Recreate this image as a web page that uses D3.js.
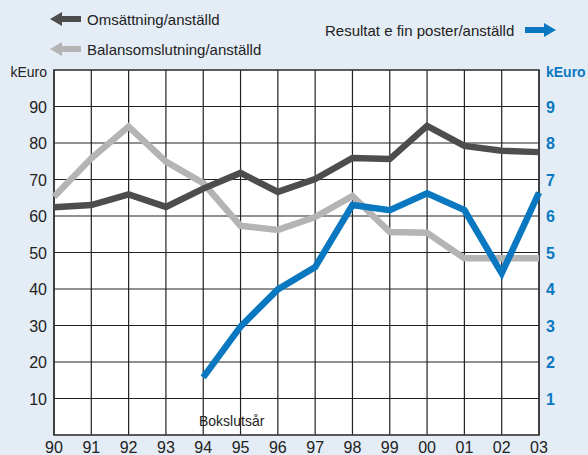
<!DOCTYPE html>
<html>
<head>
<meta charset="utf-8">
<script src="https://cdn.jsdelivr.net/npm/d3@7"></script>
<style>
body { margin: 0; background: #e4ecf5; }
svg { display: block; font-family: "Liberation Sans", Arial, sans-serif; }
</style>
</head>
<body>
<script>
// data
var years = ["90","91","92","93","94","95","96","97","98","99","00","01","02","03"];
var omsattning = [62.4, 63.0, 65.9, 62.5, 67.5, 71.8, 66.6, 70.1, 75.9, 75.6, 84.7, 79.2, 77.9, 77.5];
var balans = [65.3, 75.8, 84.5, 74.9, 69.0, 57.3, 56.2, 59.7, 65.5, 55.6, 55.4, 48.4, 48.4, 48.4];
var resultat = [null, null, null, null, 1.58, 2.97, 3.99, 4.6, 6.3, 6.16, 6.62, 6.16, 4.43, 6.64];
var leftTicks = [10, 20, 30, 40, 50, 60, 70, 80, 90];
var rightTicks = [1, 2, 3, 4, 5, 6, 7, 8, 9];

var w = 588, h = 455;
var plotL = 54, plotR = 539, plotT = 70, plotB = 435;
var blue = "#0a78c0";

var svg = d3.select("body").append("svg")
  .attr("width", w)
  .attr("height", h);

var x = d3.scaleLinear().domain([0, years.length - 1]).range([plotL, plotR]);
var y = d3.scaleLinear().domain([0, 100]).range([plotB, plotT]);
var y2 = d3.scaleLinear().domain([0, 10]).range([plotB, plotT]);

svg.append("rect")
  .attr("x", plotL).attr("y", plotT)
  .attr("width", plotR - plotL).attr("height", plotB - plotT)
  .attr("fill", "#fff");

// grid
svg.append("g").selectAll("line")
  .data(leftTicks)
  .enter().append("line")
  .attr("x1", plotL).attr("x2", plotR)
  .attr("y1", function(d) { return y(d); })
  .attr("y2", function(d) { return y(d); })
  .attr("stroke", "#222").attr("stroke-width", 1.2);

svg.append("g").selectAll("line")
  .data(years)
  .enter().append("line")
  .attr("x1", function(d, i) { return x(i); })
  .attr("x2", function(d, i) { return x(i); })
  .attr("y1", plotT).attr("y2", plotB)
  .attr("stroke", "#222").attr("stroke-width", 1.2);

svg.append("rect")
  .attr("x", plotL).attr("y", plotT)
  .attr("width", plotR - plotL).attr("height", plotB - plotT)
  .attr("fill", "none").attr("stroke", "#333").attr("stroke-width", 1.6);

// axes labels
svg.append("g").selectAll("text")
  .data(leftTicks)
  .enter().append("text")
  .attr("x", 47)
  .attr("y", function(d) { return y(d) + 6; })
  .attr("text-anchor", "end")
  .attr("font-size", 16)
  .attr("fill", "#222")
  .text(function(d) { return d; });

svg.append("g").selectAll("text")
  .data(rightTicks)
  .enter().append("text")
  .attr("x", 546)
  .attr("y", function(d) { return y2(d) + 6; })
  .attr("font-size", 16)
  .attr("font-weight", "bold")
  .attr("fill", blue)
  .text(function(d) { return d; });

svg.append("g").selectAll("text")
  .data(years)
  .enter().append("text")
  .attr("x", function(d, i) { return x(i); })
  .attr("y", 453)
  .attr("text-anchor", "middle")
  .attr("font-size", 16)
  .attr("fill", "#222")
  .text(function(d) { return d; });

svg.append("text").attr("x", 47).attr("y", 77)
  .attr("text-anchor", "end").attr("font-size", 14).attr("fill", "#222")
  .text("kEuro");
svg.append("text").attr("x", 546).attr("y", 77)
  .attr("font-size", 14).attr("font-weight", "bold").attr("fill", blue)
  .text("kEuro");
svg.append("text").attr("x", 199).attr("y", 426)
  .attr("font-size", 14).attr("fill", "#222")
  .text("Bokslutsår");

// lines
function drawLine(vals, scale, color) {
  var line = d3.line()
    .defined(function(d) { return d != null; })
    .x(function(d, i) { return x(i); })
    .y(function(d) { return scale(d); });
  svg.append("path")
    .datum(vals)
    .attr("d", line)
    .attr("fill", "none")
    .attr("stroke", color)
    .attr("stroke-width", 6.5)
    .attr("stroke-linejoin", "miter");
}
drawLine(balans, y, "#b4b4b4");
drawLine(omsattning, y, "#4d4d4d");
drawLine(resultat, y2, blue);

// legend
function arrow(x0, yc, dir, color) {
  // dir -1 points left, 1 points right
  var p = dir < 0
    ? [[x0, yc], [x0 + 12, yc - 7], [x0 + 12, yc - 3], [x0 + 31, yc - 3], [x0 + 31, yc + 3], [x0 + 12, yc + 3], [x0 + 12, yc + 7]]
    : [[x0 + 31, yc], [x0 + 19, yc - 7], [x0 + 19, yc - 3], [x0, yc - 3], [x0, yc + 3], [x0 + 19, yc + 3], [x0 + 19, yc + 7]];
  svg.append("path")
    .attr("d", "M" + p.join("L") + "Z")
    .attr("fill", color);
}
arrow(50, 19, -1, "#4d4d4d");
arrow(50, 49, -1, "#b4b4b4");
arrow(525, 30, 1, blue);

svg.append("text").attr("x", 87).attr("y", 25)
  .attr("font-size", 15).attr("fill", "#222").text("Omsättning/anställd");
svg.append("text").attr("x", 87).attr("y", 55)
  .attr("font-size", 15).attr("fill", "#222").text("Balansomslutning/anställd");
svg.append("text").attr("x", 325).attr("y", 36)
  .attr("font-size", 15).attr("fill", "#222").text("Resultat e fin poster/anställd");
</script>
</body>
</html>
